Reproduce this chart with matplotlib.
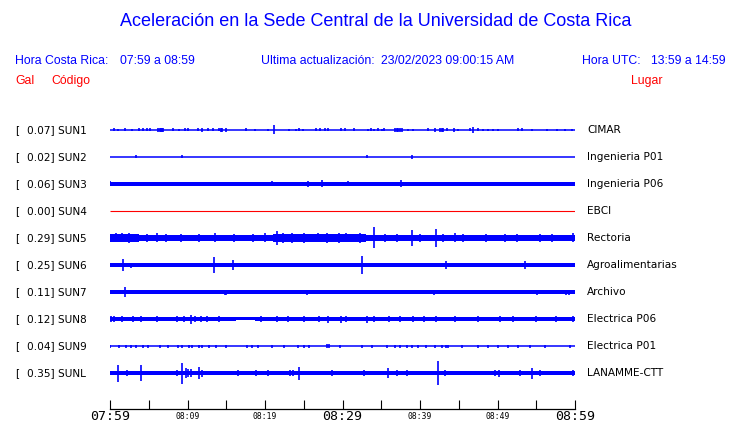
import matplotlib
matplotlib.use('Agg')
import matplotlib.pyplot as plt
import matplotlib.transforms as mtransforms

W, H = 740, 423

# --- data ---
codes = ['SUN1', 'SUN2', 'SUN3', 'SUN4', 'SUN5', 'SUN6', 'SUN7', 'SUN8', 'SUN9', 'SUNL']
peaks = [0.07, 0.02, 0.06, 0.00, 0.29, 0.25, 0.11, 0.12, 0.04, 0.35]
places = ['CIMAR', 'Ingenieria P01', 'Ingenieria P06', 'EBCI', 'Rectoria',
          'Agroalimentarias', 'Archivo', 'Electrica P06', 'Electrica P01', 'LANAMME-CTT']

# minutes after 07:59
tick_minutes = [0, 5, 10, 15, 20, 25, 30, 35, 40, 45, 50, 55, 60]
label_minutes = [0, 10, 20, 30, 40, 50, 60]
label_text = ['07:59', '08:09', '08:19', '08:29', '08:39', '08:49', '08:59']
label_big = [True, False, False, True, False, False, True]

# background noise level of each trace (0 = plain line)
noise_level = [0, 0, 2.0, 0, 2.5, 1.7, 1.7, 1.5, 0, 1.7]

# louder stretches: (start min, end min, level)
busy = {
    'SUN5': [(0, 3.7, 3.8), (3.7, 21, 3.0), (21, 33, 3.8), (33, 46, 3.4), (46, 60, 3.0)],
    'SUN8': [(0, 16.2, 2.4), (18.7, 60, 2.3)],
}

# bursts: (minute, amplitude)
spikes = {
    'SUN1': [(0.56, 1.5), (1.07, 1), (1.94, 1.5), (2.88, 1), (3.79, 1.5), (4.3, 1.5), (4.82, 1.5),
             (5.16, 1.5), (6.24, 2), (6.4, 2), (6.58, 2), (6.75, 2), (6.88, 2), (8.17, 1.5), (8.9, 1),
             (9.68, 1.5), (10.02, 1.5), (11.31, 1.5), (11.83, 2), (12.69, 1.5), (13.33, 1.5),
             (14.11, 1.5), (14.3, 2), (14.41, 2), (14.97, 2), (17.51, 1.5), (18.75, 1), (20.34, 1),
             (21.2, 4.5), (23.14, 1), (23.96, 1), (24.43, 1.5), (24.95, 1), (26.54, 1.5), (27.1, 1.5),
             (27.74, 1.5), (28.09, 1.5), (29.81, 1.5), (30.32, 1.5), (31.53, 1.5), (33.33, 1),
             (33.68, 1.5), (34.02, 1), (34.54, 1.5), (35.05, 1), (35.4, 1.5), (36.77, 2), (37.0, 2),
             (37.2, 2), (37.4, 2), (37.63, 2), (38.49, 1), (39.14, 1), (40.99, 1.5), (41.94, 2),
             (42.58, 2), (42.8, 2), (43.01, 2), (43.44, 1.5), (44.43, 2), (44.95, 1), (46.45, 1.5),
             (46.88, 3), (47.53, 1.5), (48.17, 1), (48.73, 1), (49.38, 1), (50.02, 1), (52.6, 1.5),
             (53.12, 1.5), (54.41, 1), (56.34, 1), (57.63, 1), (58.71, 1), (59.57, 1)],
    'SUN2': [(3.35, 1.5), (9.25, 1.5), (33.2, 1.5), (39.0, 2)],
    'SUN3': [(0.05, 2.5), (20.95, 2.5), (25.6, 3), (27.3, 3.5), (30.75, 2.5), (37.5, 3.5)],
    'SUN4': [],
    'SUN5': [(0.8, 4.5), (1.5, 4.5), (2.5, 5), (4.8, 4), (6.0, 4.5), (7.2, 4), (9.2, 4), (11.5, 4),
             (13.5, 4.5), (16.0, 4), (18.5, 4), (20.0, 4.5), (21.5, 7), (22.3, 5), (23.5, 5),
             (25.0, 5), (26.8, 4.5), (28.0, 5), (29.5, 5), (30.5, 4.5), (32.2, 5), (34.1, 10.5),
             (35.5, 4), (37.0, 4), (39.0, 8), (40.0, 4), (42.06, 8.8), (43.0, 4), (44.5, 4.5),
             (45.5, 4), (48.5, 4), (51.0, 4), (52.5, 4), (55.5, 4), (57.0, 4), (59.7, 4.5)],
    'SUN6': [(1.72, 6), (2.7, 2.5), (10.1, 2), (13.46, 8), (15.9, 5), (26.5, 2), (32.56, 9),
             (38.6, 2), (43.4, 4), (50.5, 2), (53.5, 3.5), (56.8, 2), (57.3, 2)],
    'SUN7': [(1.94, 4.5), (5.6, 2), (8.17, 2), (9.3, 1.5), (11.9, 2), (13.5, 2), (14.9, 2.5),
             (15.0, 2.5), (16.3, 2), (19.1, 2), (20.4, 2), (23.9, 2), (25.4, 2.5), (31.2, 2),
             (35.7, 2), (37.8, 2), (41.8, 2.5), (45.7, 2), (47.9, 2), (52.5, 2), (55.1, 2.5),
             (58.9, 2.5), (59.2, 2.5)],
    'SUN8': [(0.1, 3), (0.5, 3), (1.5, 3), (3.0, 3), (4.0, 3), (6.0, 3), (8.6, 3), (9.5, 3),
             (10.45, 4.5), (11.0, 3), (11.8, 3), (12.5, 3), (14.0, 3), (19.5, 3), (21.5, 3),
             (23.0, 3), (25.0, 3), (27.0, 3), (28.1, 3.5), (29.76, 3.5), (30.5, 3), (33.1, 3.5),
             (34.0, 3), (36.0, 3), (37.4, 3), (39.1, 3), (40.5, 3), (42.0, 3), (44.5, 3), (47.5, 3),
             (50.3, 3), (52.0, 3), (55.0, 3), (57.5, 3), (59.8, 3)],
    'SUN9': [(0.0, 1.5), (1.16, 1.5), (2.02, 1.5), (2.71, 1.5), (3.31, 1.5), (4.3, 1.5), (4.86, 1.5),
             (6.45, 1.5), (7.53, 1.5), (8.73, 1.5), (9.33, 1.5), (10.19, 1.5), (10.62, 1.5),
             (11.48, 1.5), (11.91, 1.5), (12.77, 1.5), (13.63, 1.5), (14.97, 1.5), (17.63, 1.5),
             (18.28, 1.5), (19.05, 1.5), (20.86, 1.5), (22.5, 1.5), (24.22, 1.5), (25.08, 1.5),
             (25.72, 1.5), (27.96, 2), (28.26, 2), (29.68, 1.5), (32.47, 1.5), (33.76, 1.5),
             (35.7, 1.5), (36.77, 1.5), (37.42, 1.5), (38.28, 1.5), (38.92, 1.5), (39.78, 1.5),
             (40.73, 1.5), (41.94, 1.5), (42.8, 1.5), (43.31, 1.5), (43.66, 1.5), (45.38, 1.5),
             (47.53, 1.5), (48.82, 1.5), (50.02, 1.5), (51.4, 1.5), (52.69, 1.5), (54.19, 1.5),
             (56.13, 1.5), (59.36, 1.5)],
    'SUNL': [(1.0, 8.5), (2.15, 2.5), (4.0, 7.5), (5.6, 2), (6.88, 2), (8.6, 2.5), (9.25, 10.5),
             (9.76, 5), (10.1, 4), (10.5, 4), (11.5, 6), (11.9, 3.5), (13.2, 2), (14.0, 2), (14.8, 2),
             (15.7, 2), (16.56, 3), (18.9, 2.5), (20.4, 2.5), (22.15, 2), (23.2, 2.5), (23.65, 3),
             (24.43, 6.5), (28.0, 2), (28.6, 2.5), (29.7, 2), (30.75, 2), (32.8, 3), (35.9, 5),
             (37.0, 3), (38.3, 2.5), (40.86, 2), (42.37, 12), (43.2, 2.5), (45.8, 2), (46.45, 2),
             (47.4, 2), (48.7, 2), (49.7, 2.5), (50.2, 3.5), (51.4, 2), (52.9, 3), (54.4, 5.5),
             (55.5, 2.5), (56.3, 2), (58.5, 2), (59.8, 3)],
}

BLUE = '#0000ff'
RED = '#ff0000'
AMP = 1 / 27.0  # one row = 27 px


def ftext(x, y, s, **kw):
    # place text by pixel position of the 740x423 picture
    fig.text(x / W, 1 - y / H, s, va='center', **kw)


fig = plt.figure(figsize=(W / 100, H / 100), dpi=100)
fig.patch.set_facecolor('white')

# header
hdr = dict(family='Liberation Sans')
ftext(376, 22, 'Aceleración en la Sede Central de la Universidad de Costa Rica',
      ha='center', fontsize=13.0, color=BLUE, **hdr)
ftext(15, 61, 'Hora Costa Rica:', fontsize=8.8, color=BLUE, **hdr)
ftext(120, 61, '07:59 a 08:59', fontsize=8.8, color=BLUE, **hdr)
ftext(261, 61, 'Ultima actualización:', fontsize=8.8, color=BLUE, **hdr)
ftext(381, 61, '23/02/2023 09:00:15 AM', fontsize=8.8, color=BLUE, **hdr)
ftext(582, 61, 'Hora UTC:', fontsize=8.8, color=BLUE, **hdr)
ftext(651, 61, '13:59 a 14:59', fontsize=8.8, color=BLUE, **hdr)
ftext(15, 81, 'Gal', fontsize=8.8, color=RED, **hdr)
ftext(51, 81, 'Código', fontsize=8.8, color=RED, **hdr)
ftext(631, 81, 'Lugar', fontsize=8.8, color=RED, **hdr)

# trace area: x 110..575 px, rows at 130 + 27*i, time axis at 409
ax = fig.add_axes([110 / W, 1 - 409 / H, 465 / W, (409 - 115) / H])
ax.set_xlim(0, 60)
ax.set_ylim((409 - 130) / 27.0, -15 / 27.0)
ax.set_facecolor('none')

for i, code in enumerate(codes):
    col = RED if peaks[i] == 0 else BLUE
    ftext(15, 130 + 27 * i, '[', fontsize=7.6, color='black', family='DejaVu Sans')
    ftext(27, 130 + 27 * i, '%.2f] %s' % (peaks[i], code), fontsize=7.6, color='black',
          family='DejaVu Sans')
    ftext(587, 130 + 27 * i, places[i], fontsize=7.6, color='black', family='DejaVu Sans')

    if noise_level[i] > 0:
        hw = noise_level[i] * AMP
        ax.fill_between([0, 60], i - hw, i + hw, color=col, lw=0)
    else:
        ax.plot([0, 60], [i, i], color=col, lw=1.1 if col == BLUE else 0.8, solid_capstyle='butt')
    for t0, t1, lev in busy.get(code, []):
        ax.fill_between([t0, t1], i - lev * AMP, i + lev * AMP, color=col, lw=0)
    sp = spikes[code]
    if sp:
        ts = [s[0] for s in sp]
        ax.vlines(ts, [i - s[1] * AMP for s in sp], [i + s[1] * AMP for s in sp],
                  color=col, lw=1.2)

# time axis
for s in ['top', 'left', 'right']:
    ax.spines[s].set_visible(False)
ax.spines['bottom'].set_linewidth(0.9)
ax.set_yticks([])
ax.set_xticks(tick_minutes)
ax.tick_params(axis='x', direction='in', length=6.5, width=0.8, labelbottom=False)

trans = mtransforms.blended_transform_factory(ax.transData, fig.transFigure)
for m, s, big in zip(label_minutes, label_text, label_big):
    ax.text(m, 1 - 416.5 / H, s, transform=trans, ha='center', va='center',
            family='DejaVu Sans Mono', fontsize=9.5 if big else 5.8, color='black')

fig.savefig('out.png', dpi=100, facecolor='white')
